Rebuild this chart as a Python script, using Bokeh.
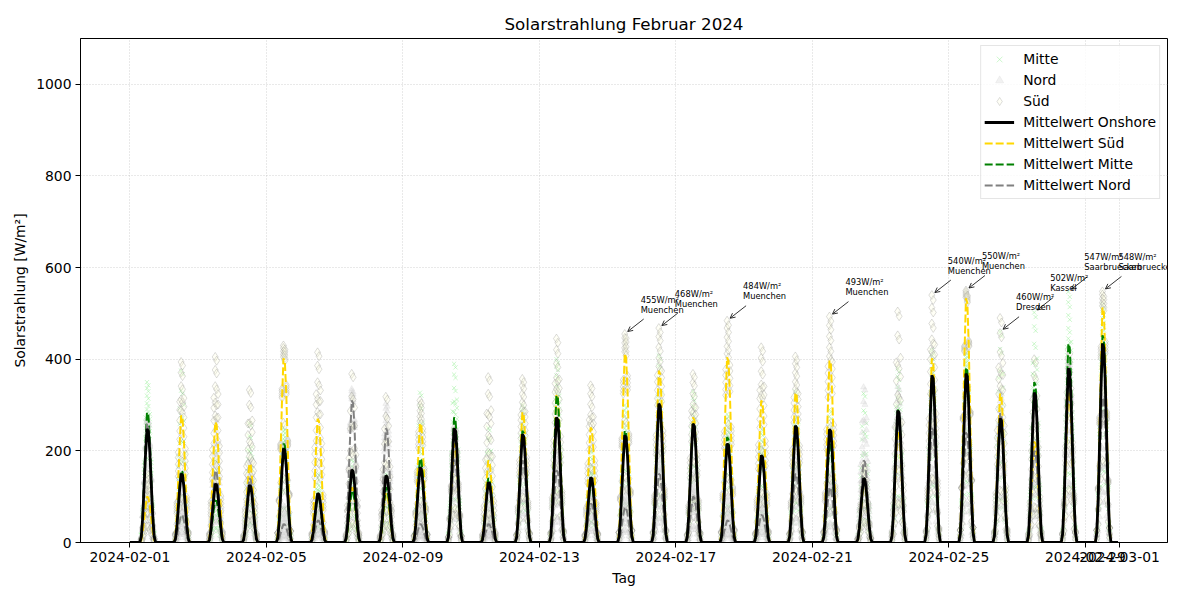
import numpy as np
import pandas as pd
from bokeh.plotting import figure
from bokeh.models import (Range1d, FixedTicker, DatetimeTickFormatter, Legend, LegendItem,
                          Arrow, OpenHead, ColumnDataSource, AllLabels)
from bokeh.embed import file_html
from bokeh.resources import INLINE
from bokeh.core.properties import value

# ---------------- data ----------------
day_labels = ["2024-02-01", "2024-02-05", "2024-02-09", "2024-02-13", "2024-02-17",
              "2024-02-21", "2024-02-25", "2024-02-29", "2024-03-01"]
y_ticks = [0, 200, 400, 600, 800, 1000]

# daily peak of the regional means (W/m²), Feb 1 .. Feb 29
mean_onshore = [248, 150, 128, 125, 205, 107, 159, 146, 164, 249, 131, 236, 273, 142, 234,
                303, 259, 216, 190, 255, 247, 140, 288, 365, 369, 271, 327, 380, 434]
mean_sued = [100, 277, 263, 172, 402, 270, 120, 107, 260, 216, 179, 284, 323, 251, 412,
             375, 273, 404, 310, 327, 397, 130, 244, 402, 533, 325, 220, 330, 513]
mean_mitte = [284, 157, 92, 125, 216, 100, 113, 120, 183, 273, 140, 244, 321, 130, 244,
              300, 259, 230, 190, 250, 216, 140, 290, 360, 382, 271, 350, 434, 452]
mean_nord = [259, 60, 157, 140, 40, 48, 310, 249, 40, 180, 40, 179, 157, 85, 77,
             150, 100, 48, 60, 150, 120, 179, 270, 250, 240, 282, 200, 375, 317]

# highest station per region and day
top_sued = [150, 394, 405, 333, 430, 415, 368, 318, 310, 250, 361, 357, 445, 343, 455,
            468, 368, 484, 426, 406, 493, 170, 504, 540, 550, 490, 400, 420, 548]
top_mitte = [350, 375, 200, 260, 250, 150, 180, 150, 327, 390, 250, 300, 400, 200, 300,
             408, 330, 280, 250, 330, 290, 325, 380, 420, 420, 460, 502, 547, 520]
top_nord = [270, 120, 270, 180, 80, 90, 335, 303, 80, 250, 80, 220, 200, 120, 120,
            200, 150, 100, 100, 200, 150, 339, 340, 300, 300, 330, 260, 400, 350]

# relative diurnal course of irradiance (hour 0..23)
hour_profile = [0, 0, 0, 0, 0, 0, 0, 0, 0.05, 0.22, 0.5, 0.78, 1.0, 0.98, 0.8, 0.52,
                0.25, 0.06, 0, 0, 0, 0, 0, 0]

# relative position of the stations between regional mean and top station
station_upper = [1.0, 0.8, 0.55, 0.3, 0.1]
station_lower = [0.65, 0.35]

# annotated station maxima
ann_day = [15, 16, 18, 21, 24, 25, 26, 27, 28, 29]
ann_hour = [12, 12, 12, 12, 12, 12, 12, 12, 12, 12]
ann_val = [455, 468, 484, 493, 540, 550, 460, 502, 547, 548]
ann_city = ["Muenchen", "Muenchen", "Muenchen", "Muenchen", "Muenchen", "Muenchen",
            "Dresden", "Kassel", "Saarbruecken", "Saarbruecken"]

# ---------------- derived series ----------------
n_days = len(mean_onshore)
times = pd.date_range("2024-02-01", periods=n_days * 24, freq="h")
prof = np.array(hour_profile)


def hourly(peaks):
    return np.concatenate([prof * p for p in peaks])


def stations(means, tops):
    xs, ys = [], []
    for d in range(n_days):
        m, t = means[d], tops[d]
        peaks = [m + w * (t - m) for w in station_upper] + [m * f for f in station_lower]
        for h in range(24):
            if prof[h] <= 0:
                continue
            for pk in peaks:
                xs.append(times[d * 24 + h])
                ys.append(pk * prof[h])
    return ColumnDataSource(dict(x=xs, y=ys))


FONT = "DejaVu Sans"
t0 = pd.Timestamp("2024-02-01")
t1 = times[-1]
margin = (t1 - t0) * 0.05
x_start, x_end = t0 - margin, t1 + margin

W, H = 1200, 600
ML, MR, MT, MB = 80, 33, 38, 58
frame_w = W - ML - MR
frame_h = H - MT - MB
ms_per_px = (x_end - x_start).total_seconds() * 1000 / frame_w
val_per_px = 1100 / frame_h

p = figure(width=W, height=H, output_backend="svg", toolbar_location=None,
           x_axis_type="datetime",
           x_range=Range1d(x_start, x_end), y_range=Range1d(0, 1100),
           min_border_left=ML, min_border_right=MR, min_border_top=MT, min_border_bottom=MB)

p.title.text = "Solarstrahlung Februar 2024"
p.title.align = "center"
p.title.text_font = FONT
p.title.text_font_size = "16.7px"
p.title.text_font_style = "normal"
p.title.text_color = "black"

p.outline_line_color = "black"
p.outline_line_alpha = 1
p.outline_line_width = 1

p.xaxis.ticker = FixedTicker(ticks=[pd.Timestamp(s).value // 10**6 for s in day_labels])
fmt = "%Y-%m-%d"
p.xaxis.formatter = DatetimeTickFormatter(days=fmt, months=fmt, hours=fmt, years=fmt)
p.xaxis.major_label_policy = AllLabels()
p.yaxis.ticker = FixedTicker(ticks=y_ticks)
p.xaxis.axis_label = "Tag"
p.yaxis.axis_label = "Solarstrahlung [W/m²]"
for ax in (p.xaxis, p.yaxis):
    ax.axis_label_text_font = FONT
    ax.axis_label_text_font_size = "13.9px"
    ax.axis_label_text_font_style = "normal"
    ax.axis_label_text_color = "black"
    ax.major_label_text_font = FONT
    ax.major_label_text_font_size = "13.9px"
    ax.major_label_text_color = "black"
    ax.minor_tick_line_color = None
    ax.major_tick_out = 5
    ax.major_tick_in = 0
    ax.major_tick_line_color = "black"
    ax.axis_line_color = "black"
    ax.major_label_standoff = 4
    ax.axis_label_standoff = 5
p.yaxis.major_label_orientation = "horizontal"

for g in (p.xgrid, p.ygrid):
    g.grid_line_color = "#b0b0b0"
    g.grid_line_alpha = 0.7
    g.grid_line_dash = "1 2"
    g.grid_line_width = 0.8
p.xgrid.ticker = p.xaxis.ticker
p.ygrid.ticker = p.yaxis.ticker

# scatter of stations
src_m = stations(mean_mitte, top_mitte)
src_n = stations(mean_nord, top_nord)
src_s = stations(mean_sued, top_sued)
r_m = p.scatter("x", "y", source=src_m, marker="x", size=6, line_color="lightgreen",
                line_alpha=0.45, line_width=1)
r_n = p.scatter("x", "y", source=src_n, marker="triangle", size=6, fill_color="lightgray",
                line_color="lightgray", fill_alpha=0.3, line_alpha=0.3)
r_s = p.scatter("x", "y", source=src_s, marker="diamond", size=9,
                fill_color="lightyellow", line_color="gray", fill_alpha=0.3, line_alpha=0.28,
                line_width=1)

# mean lines (dashed first, black on top)
r_su = p.line(times, hourly(mean_sued), line_color="gold", line_width=2, line_dash="8 3")
r_mi = p.line(times, hourly(mean_mitte), line_color="green", line_width=2, line_dash="8 3")
r_no = p.line(times, hourly(mean_nord), line_color="gray", line_width=2, line_dash="8 3")
r_on = p.line(times, hourly(mean_onshore), line_color="black", line_width=2.8)

# annotations
for d, h, v, c in zip(ann_day, ann_hour, ann_val, ann_city):
    tx = pd.Timestamp(f"2024-02-{d:02d}") + pd.Timedelta(hours=h)
    txm = tx.value / 1e6
    lx = txm + 16 * ms_per_px
    p.text(x=[lx], y=[v + 34.5 * val_per_px], text=[f"{v}W/m²"], text_font=value(FONT),
           text_font_size="8.3px", text_color="black", text_baseline="middle", text_align="left")
    p.text(x=[lx], y=[v + 24.5 * val_per_px], text=[c], text_font=value(FONT),
           text_font_size="8.3px", text_color="black", text_baseline="middle", text_align="left")
    p.add_layout(Arrow(end=OpenHead(size=5, line_width=0.8, line_color="black"),
                       x_start=txm + 19 * ms_per_px, y_start=v + 15 * val_per_px,
                       x_end=txm + 3 * ms_per_px, y_end=v + 2.5 * val_per_px,
                       line_width=0.8, line_color="black"))

legend = Legend(items=[
    LegendItem(label="Mitte", renderers=[r_m]),
    LegendItem(label="Nord", renderers=[r_n]),
    LegendItem(label="Süd", renderers=[r_s]),
    LegendItem(label="Mittelwert Onshore", renderers=[r_on]),
    LegendItem(label="Mittelwert Süd", renderers=[r_su]),
    LegendItem(label="Mittelwert Mitte", renderers=[r_mi]),
    LegendItem(label="Mittelwert Nord", renderers=[r_no]),
], location="top_right")
legend.label_text_font = FONT
legend.label_text_font_size = "13.9px"
legend.label_text_color = "black"
legend.margin = 7
legend.padding = 3
legend.spacing = 1
legend.label_height = 20
legend.glyph_height = 20
legend.glyph_width = 30
legend.label_standoff = 9
legend.border_line_color = "#cccccc"
legend.border_line_width = 1
legend.background_fill_alpha = 0.8
p.add_layout(legend)

open("out.html", "w").write(file_html(p, INLINE))
